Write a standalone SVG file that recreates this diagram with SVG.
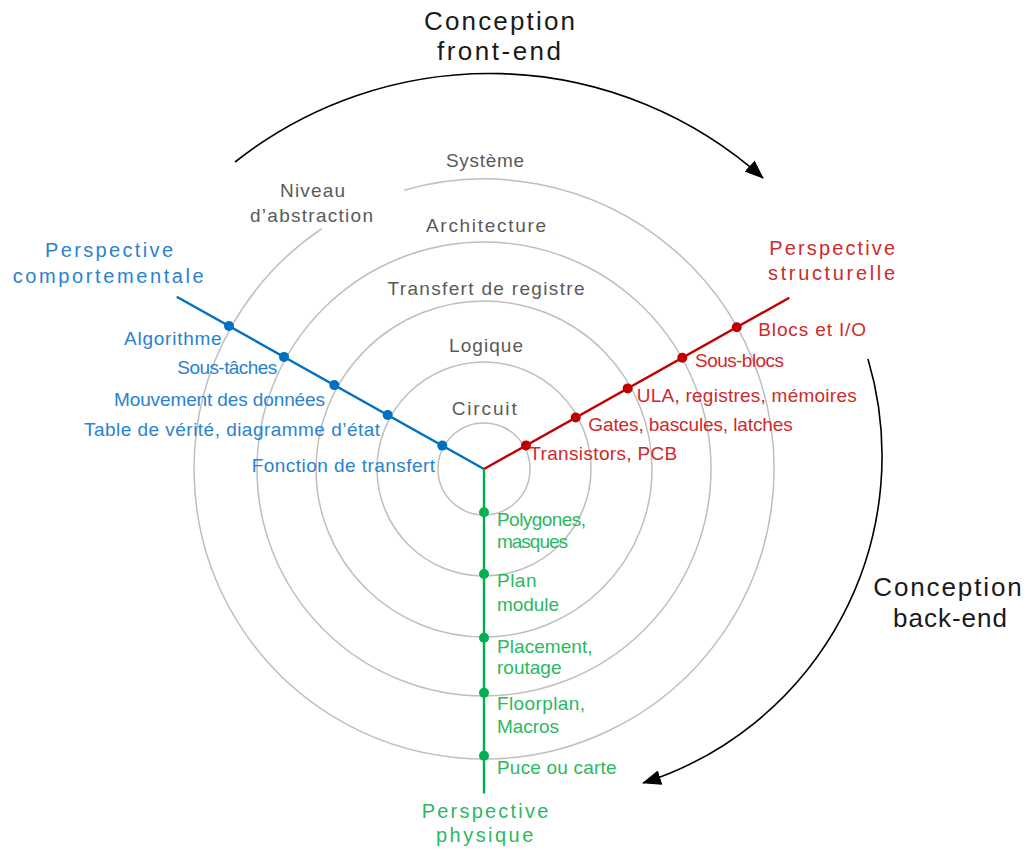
<svg xmlns="http://www.w3.org/2000/svg" width="1026" height="852" viewBox="0 0 1026 852">
  <style>
    text { font-family: "Liberation Sans", Arial, sans-serif; }
    .ring { fill: none; stroke: #bfbfbf; stroke-width: 1.5; }
    .gray { fill: #5a5a5a; font-size: 19px; }
    .black { fill: #1a1a1a; font-size: 26px; }
    .blue { fill: #2a82cf; font-size: 19px; }
    .red { fill: #cf2a2a; font-size: 19px; }
    .green { fill: #2bb863; font-size: 19px; }
    .title { font-size: 20px; }
    .axis-b { stroke: #0070c0; stroke-width: 2.4; fill: none; }
    .axis-r { stroke: #c00000; stroke-width: 2.4; fill: none; }
    .axis-g { stroke: #00b050; stroke-width: 2.4; fill: none; }
    .flow { stroke: #000; stroke-width: 1.6; fill: none; marker-end: url(#head); }
    .dot-b { fill: #0070c0; }
    .dot-r { fill: #c00000; }
    .dot-g { fill: #00b050; }
  </style>
  <defs>
    <marker id="head" markerUnits="userSpaceOnUse" markerWidth="19" markerHeight="15" viewBox="0 0 19 15" refX="18" refY="7.5" orient="auto">
      <path d="M0,0 L19,7.5 L0,15 z" fill="#000"/>
    </marker>
  </defs>

  <!-- concentric abstraction levels -->
  <g id="rings">
    <circle class="ring" cx="484" cy="469" r="46"/>
    <circle class="ring" cx="484" cy="469" r="107"/>
    <circle class="ring" cx="484" cy="469" r="168"/>
    <circle class="ring" cx="484" cy="469" r="227"/>
    <!-- outer ring leaves room for the level caption -->
    <path class="ring" d="M404.1,190.2 A290,290 0 1 1 321.8,228.6"/>
  </g>

  <g id="level-labels">
    <g id="level-systeme"><text class="gray" x="446" y="167" textLength="78" lengthAdjust="spacing">Système</text></g>
    <g id="level-caption">
      <text class="gray" x="280" y="197" textLength="65" lengthAdjust="spacing">Niveau</text>
      <text class="gray" x="250" y="222" textLength="123" lengthAdjust="spacing">d’abstraction</text>
    </g>
    <g id="level-architecture"><text class="gray" x="426" y="232" textLength="120" lengthAdjust="spacing">Architecture</text></g>
    <g id="level-rtl"><text class="gray" x="387.5" y="295" textLength="197" lengthAdjust="spacing">Transfert de registre</text></g>
    <g id="level-logique"><text class="gray" x="449" y="352" textLength="74" lengthAdjust="spacing">Logique</text></g>
    <g id="level-circuit"><text class="gray" x="451.7" y="415" textLength="65" lengthAdjust="spacing">Circuit</text></g>
  </g>

  <!-- axes and design-flow arrows -->
  <g id="connectors">
    <line class="axis-b" x1="484" y1="469" x2="176.7" y2="296.7"/>
    <line class="axis-r" x1="484" y1="469" x2="789.3" y2="297.7"/>
    <line class="axis-g" x1="484" y1="469" x2="484" y2="793.5"/>
    <path id="flow-front" class="flow" d="M235,162 A410,410 0 0 1 763,178"/>
    <path id="flow-back" class="flow" d="M868,359 A343,343 0 0 1 643,783"/>
  </g>

  <!-- behavioural axis -->
  <g id="title-comportementale">
    <text class="blue title" x="45" y="257" textLength="128" lengthAdjust="spacing">Perspective</text>
    <text class="blue title" x="12.7" y="283" textLength="191" lengthAdjust="spacing">comportementale</text>
  </g>
  <g id="node-algorithme">
    <circle class="dot-b" cx="229" cy="326" r="5"/>
    <text class="blue" x="124" y="345" textLength="97.7" lengthAdjust="spacing">Algorithme</text>
  </g>
  <g id="node-sous-taches">
    <circle class="dot-b" cx="284" cy="356.9" r="5"/>
    <text class="blue" x="177.3" y="374" textLength="100" lengthAdjust="spacing">Sous-tâches</text>
  </g>
  <g id="node-mouvement">
    <circle class="dot-b" cx="334.3" cy="385.1" r="5"/>
    <text class="blue" x="114" y="406" textLength="211" lengthAdjust="spacing">Mouvement des données</text>
  </g>
  <g id="node-table">
    <circle class="dot-b" cx="387.7" cy="415" r="5"/>
    <text class="blue" x="84" y="436" textLength="296" lengthAdjust="spacing">Table de vérité, diagramme d’état</text>
  </g>
  <g id="node-fonction">
    <circle class="dot-b" cx="442.3" cy="445.6" r="5"/>
    <text class="blue" x="251.7" y="472" textLength="183.3" lengthAdjust="spacing">Fonction de transfert</text>
  </g>

  <!-- structural axis -->
  <g id="title-structurelle">
    <text class="red title" x="769.3" y="255" textLength="125.7" lengthAdjust="spacing">Perspective</text>
    <text class="red title" x="768" y="280" textLength="127" lengthAdjust="spacing">structurelle</text>
  </g>
  <g id="node-blocs">
    <circle class="dot-r" cx="736.7" cy="327.2" r="5"/>
    <text class="red" x="758.3" y="336" textLength="107.7" lengthAdjust="spacing">Blocs et I/O</text>
  </g>
  <g id="node-sous-blocs">
    <circle class="dot-r" cx="682.3" cy="357.7" r="5"/>
    <text class="red" x="695" y="367" textLength="89" lengthAdjust="spacing">Sous-blocs</text>
  </g>
  <g id="node-ula">
    <circle class="dot-r" cx="627.7" cy="388.4" r="5"/>
    <text class="red" x="636.7" y="402" textLength="220" lengthAdjust="spacing">ULA, registres, mémoires</text>
  </g>
  <g id="node-gates">
    <circle class="dot-r" cx="575.7" cy="417.5" r="5"/>
    <text class="red" x="588.3" y="431" textLength="204.4" lengthAdjust="spacing">Gates, bascules, latches</text>
  </g>
  <g id="node-transistors">
    <circle class="dot-r" cx="526" cy="445.4" r="5"/>
    <text class="red" x="529.3" y="460" textLength="148" lengthAdjust="spacing">Transistors, PCB</text>
  </g>

  <!-- physical axis -->
  <g id="node-polygones">
    <circle class="dot-g" cx="484" cy="512.3" r="5"/>
    <text class="green" x="497" y="526" textLength="89" lengthAdjust="spacing">Polygones,</text>
    <text class="green" x="497" y="548" textLength="71" lengthAdjust="spacing">masques</text>
  </g>
  <g id="node-plan">
    <circle class="dot-g" cx="484" cy="574" r="5"/>
    <text class="green" x="497" y="587" textLength="39.5" lengthAdjust="spacing">Plan</text>
    <text class="green" x="497" y="611" textLength="62" lengthAdjust="spacing">module</text>
  </g>
  <g id="node-placement">
    <circle class="dot-g" cx="484" cy="637.7" r="5"/>
    <text class="green" x="497" y="653" textLength="95.5" lengthAdjust="spacing">Placement,</text>
    <text class="green" x="497" y="674" textLength="64.5" lengthAdjust="spacing">routage</text>
  </g>
  <g id="node-floorplan">
    <circle class="dot-g" cx="484" cy="692.7" r="5"/>
    <text class="green" x="497" y="710" textLength="88" lengthAdjust="spacing">Floorplan,</text>
    <text class="green" x="497" y="733" textLength="62" lengthAdjust="spacing">Macros</text>
  </g>
  <g id="node-puce">
    <circle class="dot-g" cx="484" cy="755.7" r="5"/>
    <text class="green" x="497" y="774" textLength="119.5" lengthAdjust="spacing">Puce ou carte</text>
  </g>
  <g id="title-physique">
    <text class="green title" x="421.7" y="818" textLength="126.6" lengthAdjust="spacing">Perspective</text>
    <text class="green title" x="436" y="842" textLength="97.3" lengthAdjust="spacing">physique</text>
  </g>

  <!-- design flow captions -->
  <g id="caption-front-end">
    <text class="black" x="424" y="30" textLength="151" lengthAdjust="spacing">Conception</text>
    <text class="black" x="437" y="60" textLength="124" lengthAdjust="spacing">front-end</text>
  </g>
  <g id="caption-back-end">
    <text class="black" x="873.3" y="596" textLength="148.4" lengthAdjust="spacing">Conception</text>
    <text class="black" x="893" y="627" textLength="114" lengthAdjust="spacing">back-end</text>
  </g>
</svg>
